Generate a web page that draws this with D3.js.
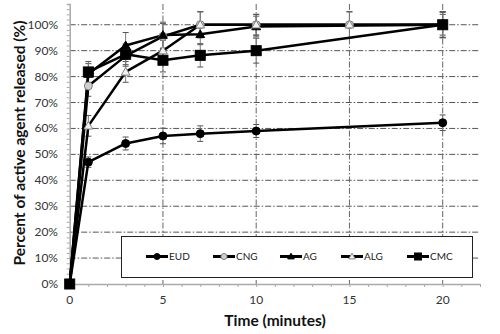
<!DOCTYPE html>
<html><head><meta charset="utf-8">
<script src="https://cdn.jsdelivr.net/npm/d3@7"></script>
<style>body{margin:0;background:#fff}svg{display:block;font-family:Lato,"Open Sans",sans-serif}</style>
</head><body><svg id="c" width="500" height="334"></svg>
<script>
const seriesNames = ["EUD","CNG","AG","ALG","CMC"];
const timesEUD = [0,1,3,5,7,10,20];
const valsEUD  = [0,47,54.2,57.1,58,59,62.2];
const errEUD   = [0,2,2.5,3,3,2.5,3];
const timesCNG = [0,1,3,5,7,10,15,20];
const valsCNG  = [0,76.4,88,95.5,100,100,100,100];
const errCNG   = [0,4,4,5,5,4,5,5];
const timesAG  = [0,1,3,5,7,10,20];
const valsAG   = [0,81,92,96,96.3,99.3,100];
const errAG    = [0,4,5,5,4,4,4];
const timesALG = [0,1,3,5,7,10,15,20];
const valsALG  = [0,61,81.8,90,100,100,100,100];
const errALG   = [0,4,4,4,5,4,5,5];
const timesCMC = [0,1,3,5,7,10,20];
const valsCMC  = [0,81.8,88.6,86.3,88.2,90,100];
const errCMC   = [0,4,4,4.5,4.5,4.8,4.8];
const xTicks = [0,5,10,15,20];
const yTicks = [0,10,20,30,40,50,60,70,80,90,100];

const series = [
  {name:"EUD", t:timesEUD, v:valsEUD, e:errEUD, marker:"circle", fill:"#000", stroke:"#000"},
  {name:"CNG", t:timesCNG, v:valsCNG, e:errCNG, marker:"circle", fill:"#cfcfcf", stroke:"#808080"},
  {name:"AG",  t:timesAG,  v:valsAG,  e:errAG,  marker:"triangle", fill:"#000", stroke:"#000"},
  {name:"ALG", t:timesALG, v:valsALG, e:errALG, marker:"triangle", fill:"#f2f2f2", stroke:"#808080"},
  {name:"CMC", t:timesCMC, v:valsCMC, e:errCMC, marker:"square", fill:"#000", stroke:"#000"}
];

const svg = d3.select("#c");
const x = d3.scaleLinear().domain([0,22]).range([69.7,480]);
const y = d3.scaleLinear().domain([0,108]).range([284,4]);

// gridlines
const grid = svg.append("g");
grid.selectAll("line.h").data(yTicks.filter(d=>d>0)).join("line")
  .attr("x1",x(0)).attr("x2",x(22)).attr("y1",d=>y(d)).attr("y2",d=>y(d))
  .attr("stroke","#555").attr("stroke-width",1).attr("stroke-dasharray","6,2,1.5,2");
grid.selectAll("line.v").data(xTicks.filter(d=>d>0)).join("line")
  .attr("x1",d=>x(d)).attr("x2",d=>x(d)).attr("y1",y(108)).attr("y2",y(0))
  .attr("stroke","#666").attr("stroke-width",1).attr("stroke-dasharray","6,2,1.5,2");

// axes
const yAxis = d3.axisLeft(y).tickValues(d3.range(0,108,2)).tickSize(3).tickFormat("");
const gy = svg.append("g").attr("transform",`translate(${x(0)},0)`).call(yAxis);
gy.selectAll("line,path").attr("stroke","#aaa");
gy.select(".domain").attr("stroke","#aaa").attr("stroke-width",1.5);
const xAxis = d3.axisBottom(x).tickValues(d3.range(0,23,1)).tickSize(3).tickSizeOuter(0).tickFormat("");
const gx = svg.append("g").attr("transform",`translate(0,${y(0)})`).call(xAxis);
gx.selectAll("line,path").attr("stroke","#aaa");
gx.select(".domain").attr("stroke","#aaa").attr("stroke-width",1.5);

svg.append("g").selectAll("text").data(yTicks).join("text")
  .attr("x",58).attr("y",d=>y(d)+4).attr("text-anchor","end")
  .attr("font-size",12).attr("fill","#333").text(d=>d+"%");
svg.append("g").selectAll("text").data(xTicks).join("text")
  .attr("x",d=>x(d)).attr("y",304).attr("text-anchor","middle")
  .attr("font-size",12).attr("fill","#333").text(d=>d);

svg.append("text").attr("x",275).attr("y",326).attr("text-anchor","middle")
  .attr("font-size",15.5).attr("font-weight","bold").attr("fill","#111").text("Time (minutes)");
svg.append("text").attr("transform","translate(25,143) rotate(-90)").attr("text-anchor","middle")
  .attr("font-size",15.5).attr("font-weight","bold").attr("fill","#111").text("Percent of active agent released (%)");

// legend box
svg.append("rect").attr("x",121.5).attr("y",236.5).attr("width",351).attr("height",41)
  .attr("fill","#fff").attr("stroke","#222").attr("stroke-width",1);

function drawMarker(g, m, cx, cy, s, fill, stroke){
  if(m==="circle") g.append("circle").attr("cx",cx).attr("cy",cy).attr("r",s).attr("fill",fill).attr("stroke",stroke).attr("stroke-width",1);
  else if(m==="square") g.append("rect").attr("x",cx-s).attr("y",cy-s).attr("width",2*s).attr("height",2*s).attr("fill",fill).attr("stroke",stroke);
  else g.append("path").attr("d",`M${cx},${cy-s*1.1}L${cx+s*1.1},${cy+s*0.8}L${cx-s*1.1},${cy+s*0.8}Z`).attr("fill",fill).attr("stroke",stroke).attr("stroke-width",1);
}

// error bars
const eg = svg.append("g");
series.forEach(s=>{
  s.t.forEach((t,i)=>{
    if(!s.e[i]) return;
    const cx=x(t), y1=y(s.v[i]-s.e[i]), y2=y(s.v[i]+s.e[i]);
    eg.append("line").attr("x1",cx).attr("x2",cx).attr("y1",y1).attr("y2",y2).attr("stroke","#777").attr("stroke-width",1);
    [y1,y2].forEach(yy=>eg.append("line").attr("x1",cx-3).attr("x2",cx+3).attr("y1",yy).attr("y2",yy).attr("stroke","#555").attr("stroke-width",1));
  });
});

// lines
const line = d3.line().x(d=>x(d[0])).y(d=>y(d[1]));
series.forEach(s=>{
  svg.append("path").datum(s.t.map((t,i)=>[t,s.v[i]])).attr("d",line)
    .attr("fill","none").attr("stroke","#000").attr("stroke-width",2.5).attr("stroke-linejoin","round");
});
// markers
const mg = svg.append("g");
series.forEach(s=>{
  s.t.forEach((t,i)=>{
    const sz = s.marker==="square"?5:4;
    drawMarker(mg, s.marker, x(t), y(s.v[i]), sz, s.fill, s.stroke);
  });
});

// legend items
const legX = [157,224,291,352,418];
const lg = svg.append("g");
series.forEach((s,i)=>{
  const cx = legX[i], cy = 256.5;
  lg.append("line").attr("x1",cx-11).attr("x2",cx+11).attr("y1",cy).attr("y2",cy).attr("stroke","#000").attr("stroke-width",3);
  drawMarker(lg, s.marker, cx, cy, s.marker==="square"?3.5:3, s.fill, s.stroke);
  lg.append("text").attr("x",cx+12).attr("y",cy+3.5).attr("font-size",10).attr("fill","#222").text(s.name);
});
</script></body></html>
